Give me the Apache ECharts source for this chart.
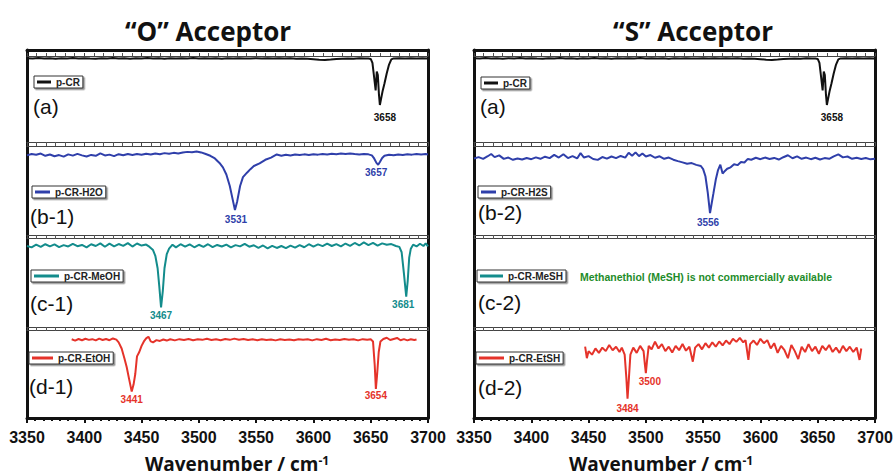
<!DOCTYPE html>
<html><head><meta charset="utf-8">
<script src="https://cdn.jsdelivr.net/npm/echarts@6/dist/echarts.min.js"></script>
<style>html,body{margin:0;padding:0;background:#fff}#c{width:895px;height:476px}</style>
</head><body><div id="c"></div>
<script>
// ---------------- DATA (wavenumber cm-1, relative transmittance 0-100 per sub-panel) ----------------
const xMin = 3350, xMax = 3700, xStep = 50;

const pCR = [[3350,97.3],[3355,97.0],[3360,97.6],[3365,97.1],[3370,97.4],[3375,96.8],[3380,97.5],[3385,97.2],[3390,97.7],[3395,97.0],
[3400,97.4],[3405,97.1],[3410,96.9],[3415,97.5],[3420,97.2],[3425,97.6],[3430,97.0],[3435,97.3],[3440,96.9],[3445,97.4],
[3450,97.1],[3455,97.6],[3460,97.2],[3465,97.5],[3470,96.9],[3475,97.3],[3480,97.0],[3485,97.5],[3490,97.2],[3495,97.6],
[3500,97.1],[3505,97.4],[3510,97.0],[3515,97.3],[3520,96.9],[3525,97.4],[3530,97.1],[3535,97.5],[3540,97.2],[3545,97.0],
[3550,97.4],[3555,97.1],[3560,97.5],[3565,97.0],[3570,97.3],[3575,97.1],[3580,97.4],[3585,96.9],[3590,97.2],[3595,96.8],
[3600,96.3],[3605,95.6],[3610,95.4],[3615,95.9],[3620,96.5],[3625,96.9],[3630,97.2],[3635,96.8],[3640,97.3],[3645,97.1],
[3648,97.0],[3650,96.6],[3651.5,92],[3653,75],[3654.3,60],[3655.3,82],[3656.2,78],[3657.2,55],[3658,43],[3659,50],
[3660.5,60],[3662,68],[3664,80],[3666,90],[3668,96],[3670,97.2],[3675,97.4],[3680,97.0],[3685,97.5],[3690,97.1],[3695,97.4],[3700,97.2]];

const pCR_H2O = [[3350,89.5],[3354,91.0],[3358,90.2],[3362,91.5],[3366,89.0],[3370,90.5],[3374,88.5],[3378,89.8],[3382,88.0],[3386,90.6],
[3390,89.2],[3394,91.2],[3398,89.5],[3402,88.2],[3406,90.0],[3410,89.0],[3414,91.8],[3418,89.4],[3422,90.3],[3426,88.6],
[3430,90.8],[3434,89.6],[3438,91.0],[3442,89.9],[3446,90.9],[3450,90.2],[3454,91.4],[3458,90.4],[3462,91.6],[3466,90.7],
[3470,92.0],[3474,91.2],[3478,92.3],[3482,91.6],[3486,92.8],[3490,93.4],[3494,93.0],[3498,93.8],[3502,92.8],[3506,91.0],
[3510,89.0],[3514,86.0],[3518,81.0],[3521,76.0],[3524,68.0],[3527,55.0],[3529.5,40.0],[3531.5,28.0],[3533.5,38.0],[3536,55.0],
[3538.5,65.0],[3542,70.0],[3545,74.0],[3548,77.5],[3553,80.5],[3558,84.5],[3563,87.0],[3568,90.5],[3572,89.0],[3576,90.2],
[3580,89.4],[3584,90.5],[3588,89.8],[3592,90.6],[3596,90.0],[3600,90.8],[3604,90.3],[3608,91.0],[3612,90.4],[3616,91.2],
[3620,90.8],[3624,91.5],[3628,91.0],[3632,91.6],[3636,90.9],[3640,90.5],[3644,91.0],[3648,90.6],[3651,89.5],[3653,86.0],
[3655,81.0],[3656.5,79.0],[3658,82.0],[3660,86.5],[3662,89.0],[3666,90.2],[3670,89.6],[3674,90.5],[3678,90.0],[3682,90.8],
[3686,90.3],[3690,91.0],[3694,90.5],[3698,90.9],[3700,90.4]];

const pCR_MeOH = [[3350,91],[3354,89.5],[3358,92.5],[3362,90],[3366,93],[3370,90.5],[3374,92.8],[3378,89.8],[3382,92],[3386,90.5],
[3390,93.5],[3394,90.8],[3398,92.2],[3402,89.5],[3406,93.0],[3410,91],[3414,94],[3418,90.2],[3422,93.6],[3426,90.6],
[3430,93.2],[3434,91.2],[3438,94.2],[3442,90.4],[3446,93.8],[3450,91.5],[3454,92.6],[3457,90.0],[3460,86.5],[3462,80],
[3464,66],[3465.5,45],[3467,22],[3468.5,40],[3470,66],[3472,82],[3474,88],[3477,92.5],[3480,89.5],[3484,93],
[3488,90.2],[3492,92.8],[3496,89.6],[3500,92.4],[3504,90],[3508,93],[3512,89.8],[3516,92.2],[3520,90.4],[3524,92.6],
[3528,89.5],[3532,92],[3536,90.6],[3540,93.4],[3544,90.2],[3548,91.8],[3552,89],[3556,91.6],[3560,88.4],[3564,91.2],
[3568,88.8],[3572,91.0],[3576,88.6],[3580,91.4],[3584,89.2],[3588,92.0],[3592,89.6],[3596,93.0],[3600,90.4],[3604,92.8],
[3608,90.8],[3612,93.6],[3616,91.0],[3620,93.2],[3624,90.6],[3628,93.8],[3632,91.2],[3636,94.4],[3640,91.6],[3644,95.0],
[3648,92.0],[3652,94.6],[3656,91.4],[3660,94.0],[3664,92.4],[3668,93.2],[3672,91.0],[3675,90.0],[3677,84],[3679,60],
[3681,34],[3682.3,52],[3683.6,78],[3685,88],[3687,92.5],[3690,90.5],[3693,93.5],[3696,91],[3698,94],[3700,90.5]];

const pCR_EtOH = [[3389,89.5],[3392,88],[3395,89.8],[3398,88.4],[3401,90],[3404,88.8],[3407,89.6],[3410,88.2],[3413,90.2],[3416,88.6],
[3419,89.8],[3422,88.4],[3425,90.4],[3428,89],[3430,86],[3432.6,79],[3435,68],[3437,58],[3439,45],[3441.4,30],
[3443,38],[3444.5,50],[3446,70],[3448,75],[3450,82],[3452,87],[3454,90.5],[3456,92.4],[3458,87],[3460,86],
[3463,88.5],[3466,87.6],[3469,89.2],[3472,88.0],[3475,89.5],[3479,88.2],[3483,89.6],[3487,88.6],[3491,89.8],[3495,88.4],
[3499,89.4],[3503,88.8],[3507,90.0],[3511,88.6],[3515,89.6],[3519,88.4],[3523,89.8],[3527,88.8],[3531,90.2],[3535,89.0],
[3539,89.8],[3543,88.6],[3547,89.4],[3551,88.4],[3555,89.6],[3559,88.6],[3563,89.2],[3567,88.2],[3571,89.4],[3575,88.6],
[3579,89.2],[3583,88.4],[3587,89.6],[3591,88.8],[3595,89.4],[3599,88.2],[3603,89.6],[3607,88.6],[3611,90.0],[3615,88.4],
[3619,89.2],[3623,88.6],[3627,89.8],[3631,88.8],[3635,89.4],[3639,88.2],[3643,89.6],[3647,88.8],[3650,89.4],[3652,87],
[3653.5,60],[3654.5,33],[3655.5,48],[3657,75],[3658.5,87],[3661,89.8],[3664,91.2],[3667,88.6],[3670,89.8],[3673,91.0],
[3676,88.4],[3679,89.6],[3682,88.2],[3685,89.4],[3688,88.6],[3690,89.2]];

const pCR_H2S = [[3350,86],[3354,87.5],[3358,85.5],[3362,88.5],[3365,91],[3368,87.5],[3372,89.5],[3376,85.5],[3380,87.0],[3384,84.5],
[3388,86.0],[3392,84.8],[3396,86.5],[3400,85.2],[3404,87.2],[3408,85.6],[3412,88.0],[3416,86.4],[3420,90.0],[3424,87.0],
[3428,90.8],[3432,86.4],[3436,88.6],[3440,86.0],[3443,92.0],[3446,87.0],[3450,88.6],[3454,85.4],[3458,84.4],[3462,87.6],
[3466,85.8],[3470,88.2],[3474,86.4],[3478,88.8],[3482,87.0],[3485,92.4],[3488,89.0],[3491,92.8],[3494,88.6],[3497,91.6],
[3500,88.2],[3504,89.8],[3508,86.8],[3512,88.4],[3516,85.6],[3520,87.0],[3524,84.6],[3528,83.0],[3532,81.6],[3536,80.0],
[3540,80.8],[3544,78.8],[3548,77.5],[3550,74],[3552,66],[3554,48],[3556,24.5],[3557.5,36],[3559,47],[3561,62],
[3563,73],[3565,79],[3567,69],[3569,72],[3571,74.5],[3574,76],[3577,79.5],[3580,78.5],[3583,82],[3586,81.5],
[3589,85.5],[3592,84.6],[3596,86.8],[3600,85.2],[3604,87.0],[3608,85.4],[3612,86.6],[3616,84.8],[3620,87.4],[3624,89.6],
[3628,86.2],[3632,88.4],[3636,85.6],[3640,87.0],[3644,85.2],[3648,86.8],[3652,84.8],[3656,86.4],[3660,85.6],[3664,88.4],
[3668,90.6],[3672,87.2],[3676,88.2],[3680,85.6],[3684,86.8],[3688,85.4],[3692,86.6],[3696,85.0],[3700,85.8]];

const pCR_MeSH = []; // Methanethiol not commercially available: no spectrum

const pCR_EtSH = [[3447,81],[3448.5,68],[3450,76],[3453,72],[3456,79],[3459,74],[3462,80],[3465,76],[3468,83],[3471,77],
[3474,81],[3477,75],[3479,80],[3481.5,72],[3483,45],[3484,22],[3485.2,45],[3486.5,72],[3489,80],[3492,74],
[3495,82],[3498,76],[3499.2,60],[3500,51],[3501,65],[3502.5,82],[3505,78],[3508,86.7],[3511,79],[3514,84],
[3517,76],[3520,81],[3523,74.5],[3526,82],[3529,77],[3532,84],[3535,76.5],[3538,81],[3541,64],[3543,80],
[3546,84],[3549,78],[3552,85],[3555,80],[3558,86],[3561,81],[3564,87],[3567,82.5],[3570,88],[3573,84],
[3576,90],[3579,86.5],[3582,91],[3585,86],[3587,88.5],[3589.5,66],[3591,84],[3594,88],[3597,83],[3600,90],
[3603,85],[3606,88.5],[3609,79],[3612,85],[3615,74],[3618,82],[3621,77],[3624,68],[3627,83],[3630,76],
[3633,67],[3636,81],[3639,75],[3642,84],[3645,76],[3648,81],[3651,73],[3654,82],[3657,77],[3660,83],
[3663,75],[3666,80],[3669,74],[3672,82],[3675,76],[3678,81],[3681,75],[3684,80],[3686.5,66],[3688,79]];

// peak annotations: [wavenumber, value at minimum, label]
const peaks_pCR  = [[3658, 43, '3658']];
const peaks_H2O  = [[3531.5, 28, '3531'], [3656.5, 79, '3657']];
const peaks_MeOH = [[3467, 22, '3467'], [3681, 34, '3681']];
const peaks_EtOH = [[3441.4, 30, '3441'], [3654.5, 33, '3654']];
const peaks_H2S  = [[3556, 24.5, '3556']];
const peaks_EtSH = [[3484, 22, '3484'], [3500, 51, '3500']];

const panelTitles = ['\u201CO\u201D Acceptor', '\u201CS\u201D Acceptor'];
const rowTags = [['(a)', '(b-1)', '(c-1)', '(d-1)'], ['(a)', '(b-2)', '(c-2)', '(d-2)']];
const noteText = 'Methanethiol (MeSH) is not commercially available';
const axisTitleMain = 'Wavenumber / cm', axisTitleSup = '-1';

// ---------------- STYLE / LAYOUT ----------------
const COL = {black: '#111111', blue: '#2F3FAA', teal: '#138C8C', red: '#E5332A', green: '#1E8C2A'};
const SANS = '"Liberation Sans", Arial, sans-serif';
const TITLEF = '"Open Sans", "Liberation Sans", sans-serif';

const panels = [
  {left: 27, right: 895 - 428, titleX: 208, axTitleX: 237,
   rows: [
     {name: 'p-CR', data: pCR, color: COL.black, peaks: peaks_pCR, leg: [34, 76, 14], tagPos: [33, 106]},
     {name: 'p-CR-H2O', data: pCR_H2O, color: COL.blue, peaks: peaks_H2O, leg: [32, 186, 15], tagPos: [30, 216]},
     {name: 'p-CR-MeOH', data: pCR_MeOH, color: COL.teal, peaks: peaks_MeOH, leg: [31, 270, 25], tagPos: [30, 303]},
     {name: 'p-CR-EtOH', data: pCR_EtOH, color: COL.red, peaks: peaks_EtOH, leg: [29, 352, 21], tagPos: [29, 386]}
   ]},
  {left: 474, right: 895 - 875, titleX: 693, axTitleX: 661,
   rows: [
     {name: 'p-CR', data: pCR, color: COL.black, peaks: peaks_pCR, leg: [481, 77, 14], tagPos: [480, 106]},
     {name: 'p-CR-H2S', data: pCR_H2S, color: COL.blue, peaks: peaks_H2S, leg: [478, 186, 15], tagPos: [478, 212]},
     {name: 'p-CR-MeSH', data: pCR_MeSH, color: COL.teal, peaks: [], leg: [477, 270, 23], tagPos: [478, 302]},
     {name: 'p-CR-EtSH', data: pCR_EtSH, color: COL.red, peaks: peaks_EtSH, leg: [476, 352, 25], tagPos: [478, 387]}
   ]}
];
const rowGeom = [{top: 56, height: 86}, {top: 146, height: 89}, {top: 238, height: 89}, {top: 330, height: 88}];
// label tweaks [dx, distance]
const labelTweak = {'3658': [5, 7], '3531': [1, 4], '3657': [-2, 3], '3467': [0, 3], '3681': [-3, 3],
  '3441': [0, 3], '3654': [0, 2], '3556': [-2, 4], '3484': [0, 5], '3500': [4, 3]};

const grid = [], xAxis = [], yAxis = [], series = [], legend = [], graphic = [];
const noAx = {axisTick: {show: false}, axisLabel: {show: false}, splitLine: {show: false}};

panels.forEach((P, pi) => {
  // frame grid: thick outer box sides and top
  const fg = grid.length;
  grid.push({left: P.left, right: P.right, top: 50, height: 368, outerBoundsMode: 'none'});
  xAxis.push(Object.assign({gridIndex: fg, type: 'value', min: 0, max: 1, position: 'top',
    axisLine: {show: true, onZero: false, lineStyle: {color: COL.black, width: 3}}}, noAx));
  yAxis.push(Object.assign({gridIndex: fg, type: 'value', min: 0, max: 1, position: 'left',
    axisLine: {show: true, onZero: false, lineStyle: {color: COL.black, width: 3}}}, noAx));
  yAxis.push(Object.assign({gridIndex: fg, type: 'value', min: 0, max: 1, position: 'right',
    axisLine: {show: true, onZero: false, lineStyle: {color: COL.black, width: 3}}}, noAx));

  P.rows.forEach((R, ri) => {
    const g = grid.length;
    const last = ri === P.rows.length - 1;
    grid.push({left: P.left, right: P.right, top: rowGeom[ri].top, height: rowGeom[ri].height, outerBoundsMode: 'none'});
    const xb = xAxis.length;
    xAxis.push({gridIndex: g, type: 'value', min: xMin, max: xMax, interval: xStep, position: 'bottom',
      axisLine: {show: true, onZero: false, lineStyle: {color: last ? COL.black : '#444', width: last ? 3 : 1}},
      axisTick: {show: true, inside: false, length: last ? 5 : 4, lineStyle: {color: last ? COL.black : '#444', width: last ? 2 : 1}},
      minorTick: {show: true, splitNumber: last ? 7 : 6, length: last ? 3 : 4, lineStyle: {color: last ? COL.black : '#555', width: last ? 2 : 1}},
      axisLabel: {show: last, margin: 11, fontSize: 16, fontWeight: 'bold', color: '#111', fontFamily: SANS,
        formatter: v => String(v)},
      splitLine: {show: false}, minorSplitLine: {show: false}});
    xAxis.push({gridIndex: g, type: 'value', min: xMin, max: xMax, interval: xStep, position: 'top',
      axisLine: {show: true, onZero: false, lineStyle: {color: '#444', width: 1}},
      axisTick: {show: ri === 0, inside: false, length: 3, lineStyle: {color: '#444', width: 1}},
      minorTick: {show: ri === 0, splitNumber: 6, length: 3, lineStyle: {color: '#555', width: 1}},
      axisLabel: {show: false}, splitLine: {show: false}});
    const yi = yAxis.length;
    yAxis.push({gridIndex: g, type: 'value', min: 0, max: 100, show: false, splitLine: {show: false}});

    series.push({type: 'line', name: R.name, xAxisIndex: xb, yAxisIndex: yi, data: R.data,
      showSymbol: false, symbol: 'none', color: R.color, lineStyle: {width: 2, color: R.color},
      animation: false, silent: true,
      markPoint: {symbol: 'circle', symbolSize: 0, silent: true, animation: false,
        data: R.peaks.map(pk => {
          const t = labelTweak[pk[2]] || [0, 3];
          return {name: pk[2], coord: [pk[0], pk[1]], label: {offset: [t[0], 0], distance: t[1]}};
        }),
        label: {show: true, position: 'bottom', formatter: '{b}', color: R.color, fontSize: 10,
          fontWeight: 'bold', fontFamily: SANS}}});

    legend.push({data: [R.name], left: R.leg[0], top: R.leg[1], orient: 'horizontal', selectedMode: false,
      icon: 'rect', itemWidth: R.leg[2], itemHeight: 3, itemGap: 0, padding: [1, 3, 1, 3],
      borderColor: '#333', borderWidth: 1, backgroundColor: '#fff',
      shadowColor: 'rgba(0,0,0,0.45)', shadowBlur: 0, shadowOffsetX: 1.5, shadowOffsetY: 1.5,
      textStyle: {fontSize: 10, fontWeight: 'bold', color: '#222', fontFamily: SANS}});

    graphic.push({type: 'text', x: R.tagPos[0], y: R.tagPos[1], silent: true,
      style: {text: rowTags[pi][ri], font: 'normal 21px ' + SANS, fill: '#111',
        align: 'left', verticalAlign: 'middle', textAlign: 'left', textVerticalAlign: 'middle'}});
  });

  graphic.push({type: 'text', x: P.titleX, y: 31, silent: true,
    style: {text: panelTitles[pi], font: 'bold 26px ' + TITLEF, fill: '#111',
      align: 'center', verticalAlign: 'middle', textAlign: 'center', textVerticalAlign: 'middle'}});
  graphic.push({type: 'text', x: P.axTitleX, y: 464, silent: true,
    style: {text: '{m|' + axisTitleMain + '}{s|' + axisTitleSup + '}', fill: '#111',
      align: 'center', verticalAlign: 'middle', textAlign: 'center', textVerticalAlign: 'middle',
      rich: {m: {fontSize: 19, fontWeight: 'bold', fontFamily: TITLEF, fill: '#111', color: '#111', lineHeight: 19},
             s: {fontSize: 12, fontWeight: 'bold', fontFamily: TITLEF, fill: '#111', color: '#111', verticalAlign: 'top', lineHeight: 19}}}});
});

graphic.push({type: 'text', x: 580, y: 277, silent: true,
  style: {text: noteText, font: 'bold 10.5px ' + SANS, fill: COL.green,
    align: 'left', verticalAlign: 'middle', textAlign: 'left', textVerticalAlign: 'middle'}});

const chart = echarts.init(document.getElementById('c'), null, {renderer: 'svg', width: 895, height: 476});
chart.setOption({backgroundColor: '#fff', animation: false, grid, xAxis, yAxis, series, legend, graphic});
</script></body></html>
